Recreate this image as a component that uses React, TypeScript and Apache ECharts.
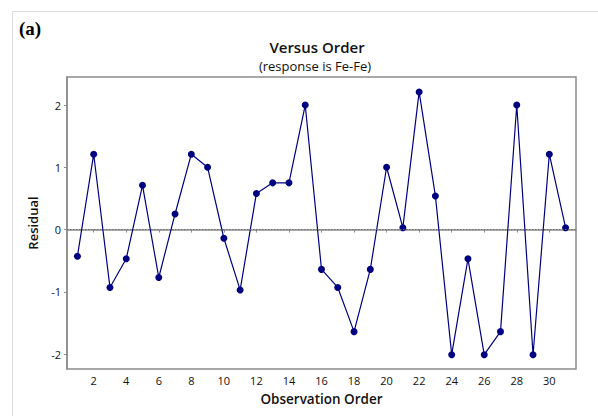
import React, { useEffect, useRef } from "react";
import * as echarts from "echarts";

// Residuals in observation order
const observationOrder: number[] = Array.from({ length: 31 }, (_, i) => i + 1);
const residuals: number[] = [
  -0.43, 1.21, -0.93, -0.47, 0.71, -0.77, 0.25, 1.21, 1.0, -0.14,
  -0.97, 0.58, 0.75, 0.75, 2.0, -0.64, -0.93, -1.64, -0.64, 1.0,
  0.03, 2.21, 0.54, -2.01, -0.47, -2.01, -1.64, 2.0, -2.01, 1.21, 0.03,
];
const xTickValues: number[] = [2, 4, 6, 8, 10, 12, 14, 16, 18, 20, 22, 24, 26, 28, 30];
const yTickValues: number[] = [-2, -1, 0, 1, 2];

const FONT = "'Open Sans', 'Noto Sans', sans-serif";
const SERIF = "Times New Roman, Liberation Serif, DejaVu Serif, Noto Serif, serif";
const AXIS_COLOR = "#8c8c8c";
const LINE_COLOR = "#000080";

export default function App() {
  const ref = useRef<HTMLDivElement>(null);

  useEffect(() => {
    document.body.style.margin = "0";
    if (!ref.current) return;
    const chart = echarts.init(ref.current, undefined, { renderer: "svg" });
    const points = observationOrder.map((x, i) => [x, residuals[i]]);

    chart.setOption({
      animation: false,
      backgroundColor: "#ffffff",
      title: [
        {
          text: "(a)",
          left: 19,
          top: 19,
          padding: 0,
          textStyle: { fontFamily: SERIF, fontSize: 19, fontWeight: "bold", color: "#000" },
        },
        {
          text: "Versus Order",
          left: 312,
          top: 34,
          textAlign: "center",
          textStyle: { fontFamily: FONT, fontSize: 15, fontWeight: 600, color: "#111" },
        },
        {
          text: "(response is Fe-Fe)",
          left: 310,
          top: 54,
          textAlign: "center",
          textStyle: { fontFamily: FONT, fontSize: 13, fontWeight: "normal", color: "#111" },
        },
      ],
      graphic: [
        {
          type: "polyline",
          shape: { points: [[12.5, 416], [12.5, 11.5], [598, 11.5]] },
          style: { stroke: "#dcdcdc", lineWidth: 1, fill: "none" },
          silent: true,
        },
      ],
      grid: {
        left: 67,
        right: 22,
        top: 77,
        bottom: 47,
        show: true,
        borderColor: AXIS_COLOR,
        borderWidth: 1.5,
        backgroundColor: "transparent",
      },
      xAxis: {
        type: "value",
        min: 0.36,
        max: 31.64,
        name: "Observation Order",
        nameLocation: "middle",
        nameGap: 23,
        nameTextStyle: { fontFamily: FONT, fontSize: 13.5, fontWeight: 600, color: "#111" },
        splitLine: { show: false },
        axisLine: { show: true, lineStyle: { color: AXIS_COLOR, width: 1.5 } },
        axisTick: {
          show: true,
          length: 3,
          customValues: xTickValues,
          lineStyle: { color: AXIS_COLOR },
        },
        axisLabel: {
          customValues: xTickValues,
          fontFamily: FONT,
          fontSize: 11,
          color: "#111",
          margin: 6,
        },
      },
      yAxis: {
        type: "value",
        min: -2.24,
        max: 2.45,
        name: "Residual",
        nameLocation: "middle",
        nameGap: 28,
        nameTextStyle: { fontFamily: FONT, fontSize: 13, fontWeight: 600, color: "#111" },
        splitLine: { show: false },
        axisLine: { show: true, lineStyle: { color: AXIS_COLOR, width: 1.5 } },
        axisTick: {
          show: true,
          length: 3,
          customValues: yTickValues,
          lineStyle: { color: AXIS_COLOR },
        },
        axisLabel: {
          customValues: yTickValues,
          fontFamily: FONT,
          fontSize: 11,
          color: "#111",
          margin: 6,
        },
      },
      series: [
        {
          type: "line",
          data: points,
          symbol: "circle",
          symbolSize: 7,
          lineStyle: { color: LINE_COLOR, width: 1.2 },
          itemStyle: { color: LINE_COLOR },
          markLine: {
            silent: true,
            symbol: "none",
            label: { show: false },
            lineStyle: { color: "#6e6e6e", type: [1.5, 1.5], width: 1 },
            data: [{ yAxis: 0 }],
          },
          z: 3,
        },
      ],
    });

    return () => chart.dispose();
  }, []);

  return <div ref={ref} style={{ width: 598, height: 416 }} />;
}
